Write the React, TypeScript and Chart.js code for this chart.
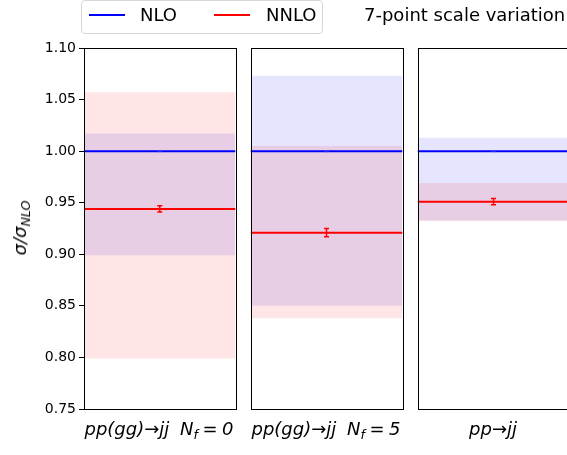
import React, { useEffect, useRef } from "react";
import { Chart, registerables } from "chart.js";
Chart.register(...registerables);

// ---- data ----
const processes = ["pp(gg)→jj  Nf=0", "pp(gg)→jj  Nf=5", "pp→jj"];
const nloCentral = [1.0, 1.0, 1.0];
const nloUpper = [1.017, 1.073, 1.013];
const nloLower = [0.899, 0.85, 0.933];
const nloErr = [0.0005, 0.0005, 0.0005];
const nnloCentral = [0.944, 0.921, 0.951];
const nnloUpper = [1.057, 1.005, 0.969];
const nnloLower = [0.799, 0.838, 0.932];
const nnloErr = [0.003, 0.004, 0.003];
const yTicks = [0.75, 0.8, 0.85, 0.9, 0.95, 1.0, 1.05, 1.1];
const xSpan = [0, 1];
const xMid = 0.5;

const FONT = "'DejaVu Sans', sans-serif";
const BLUE = "rgb(0,0,255)";
const RED = "rgb(255,0,0)";

const framePlugin = {
  id: "frame",
  afterDatasetsDraw(chart: any) {
    const { ctx, chartArea: a } = chart;
    ctx.save();
    ctx.strokeStyle = "#000";
    ctx.lineWidth = 1;
    ctx.strokeRect(
      Math.round(a.left) + 0.5,
      Math.round(a.top) + 0.5,
      Math.round(a.right - a.left),
      Math.round(a.bottom - a.top)
    );
    ctx.restore();
  },
};

function Panel({ idx, left, width, showY, padL, padR }: any) {
  const ref = useRef<HTMLCanvasElement>(null);
  useEffect(() => {
    const flat = (y: number) => xSpan.map((x) => ({ x, y }));
    const errSet = (c: number, e: number, color: string, label: string, w: number) => ({
      label,
      data: [
        { x: xMid, y: c - e },
        { x: xMid, y: c + e },
      ],
      borderColor: color,
      borderWidth: w,
      pointStyle: "line",
      pointRadius: 2.5,
      pointBorderWidth: w,
      pointBorderColor: color,
      pointBackgroundColor: color,
      fill: false,
      clip: 0,
    });
    const lineSet = (y: number, color: string, label: string) => ({
      label,
      data: flat(y),
      borderColor: color,
      borderWidth: 2,
      pointRadius: 0,
      fill: false,
      clip: 0,
    });
    const bandSet = (y: number, color: string, label: string, fill: any) => ({
      label,
      data: flat(y),
      borderWidth: 0,
      borderColor: "transparent",
      backgroundColor: color,
      pointRadius: 0,
      fill,
      clip: 0,
    });
    const yScale: any = {
      type: "linear",
      min: 0.75,
      max: 1.1,
      display: showY,
      afterBuildTicks: (s: any) => {
        s.ticks = yTicks.map((v) => ({ value: v }));
      },
      ticks: {
        font: { family: FONT, size: 14 },
        color: "#000",
        padding: 3,
        callback: (v: any) => Number(v).toFixed(2),
      },
      grid: { drawOnChartArea: false, drawTicks: true, tickLength: 5, color: "#000" },
      border: { display: false },
    };
    if (showY) {
      yScale.afterFit = (s: any) => {
        s.width = 84;
      };
    }
    const chart = new Chart(ref.current as HTMLCanvasElement, {
      type: "line",
      data: {
        datasets: [
          errSet(nnloCentral[idx], nnloErr[idx], RED, "NNLO err", 1.5),
          errSet(nloCentral[idx], nloErr[idx], "rgba(60,60,255,0.6)", "NLO err", 1),
          lineSet(nnloCentral[idx], RED, "NNLO"),
          lineSet(nloCentral[idx], BLUE, "NLO"),
          bandSet(nnloUpper[idx], "rgba(255,0,0,0.1)", "NNLO up", "+1"),
          bandSet(nnloLower[idx], "rgba(255,0,0,0.1)", "NNLO lo", false),
          bandSet(nloUpper[idx], "rgba(0,0,255,0.1)", "NLO up", "+1"),
          bandSet(nloLower[idx], "rgba(0,0,255,0.1)", "NLO lo", false),
        ] as any,
      },
      options: {
        animation: false,
        responsive: false,
        devicePixelRatio: 1,
        events: [],
        layout: { padding: { top: 48, bottom: 46, left: padL, right: padR } },
        plugins: { legend: { display: false }, tooltip: { enabled: false } },
        scales: {
          x: { type: "linear", min: 0, max: 1, display: false },
          y: yScale,
        },
      } as any,
      plugins: [framePlugin],
    });
    return () => chart.destroy();
  }, []);
  return (
    <canvas
      ref={ref}
      width={width}
      height={455}
      style={{ position: "absolute", left, top: 0, width, height: 455 }}
    />
  );
}

const sub = (t: string) => (
  <span style={{ fontSize: "70%", position: "relative", top: "0.3em" }}>{t}</span>
);

export default function App() {
  const labelStyle: any = {
    position: "absolute",
    top: 418,
    transform: "translateX(-50%)",
    whiteSpace: "pre",
    fontFamily: FONT,
    fontSize: 18,
    fontStyle: "italic",
    lineHeight: "22px",
    color: "#000",
  };
  return (
    <div
      style={{
        position: "fixed",
        left: 0,
        top: 0,
        width: 567,
        height: 455,
        overflow: "hidden",
        background: "#fff",
      }}
    >
      <Panel idx={0} left={0} width={241} showY={true} padL={0} padR={4} />
      <Panel idx={1} left={245} width={163} showY={false} padL={4} padR={4} />
      <Panel idx={2} left={412} width={163} showY={false} padL={4} padR={4} />

      {/* y label */}
      <div
        style={{
          position: "absolute",
          left: 21,
          top: 228,
          transform: "translate(-50%, -50%) rotate(-90deg)",
          whiteSpace: "nowrap",
          fontFamily: FONT,
          fontSize: 18,
          fontStyle: "italic",
          lineHeight: "22px",
        }}
      >
        σ/σ{sub("NLO")}
      </div>

      {/* x labels */}
      <div style={{ ...labelStyle, left: 159 }}>
        pp(gg)→jj<span style={{ marginLeft: "0.6em" }}>N</span>
        {sub("f")}{"\u2005=\u20050"}
      </div>
      <div style={{ ...labelStyle, left: 326 }}>
        pp(gg)→jj<span style={{ marginLeft: "0.6em" }}>N</span>
        {sub("f")}{"\u2005=\u20055"}
      </div>
      <div style={{ ...labelStyle, left: 493 }}>pp→jj</div>

      {/* legend */}
      <div
        style={{
          position: "absolute",
          left: 81,
          top: 0,
          width: 242,
          height: 34,
          boxSizing: "border-box",
          border: "1px solid #d6d6d6",
          borderRadius: 4,
          background: "rgba(255,255,255,0.8)",
        }}
      />
      <div style={{ position: "absolute", left: 89, top: 14, width: 36, height: 2, background: BLUE }} />
      <div
        style={{ position: "absolute", left: 140, top: 4, fontFamily: FONT, fontSize: 18, lineHeight: "22px" }}
      >
        NLO
      </div>
      <div style={{ position: "absolute", left: 214, top: 14, width: 36, height: 2, background: RED }} />
      <div
        style={{ position: "absolute", left: 266, top: 4, fontFamily: FONT, fontSize: 18, lineHeight: "22px" }}
      >
        NNLO
      </div>
      <div
        style={{
          position: "absolute",
          left: 364,
          top: 4,
          fontFamily: FONT,
          fontSize: 18,
          lineHeight: "22px",
          whiteSpace: "nowrap",
        }}
      >
        7-point scale variation
      </div>
    </div>
  );
}
